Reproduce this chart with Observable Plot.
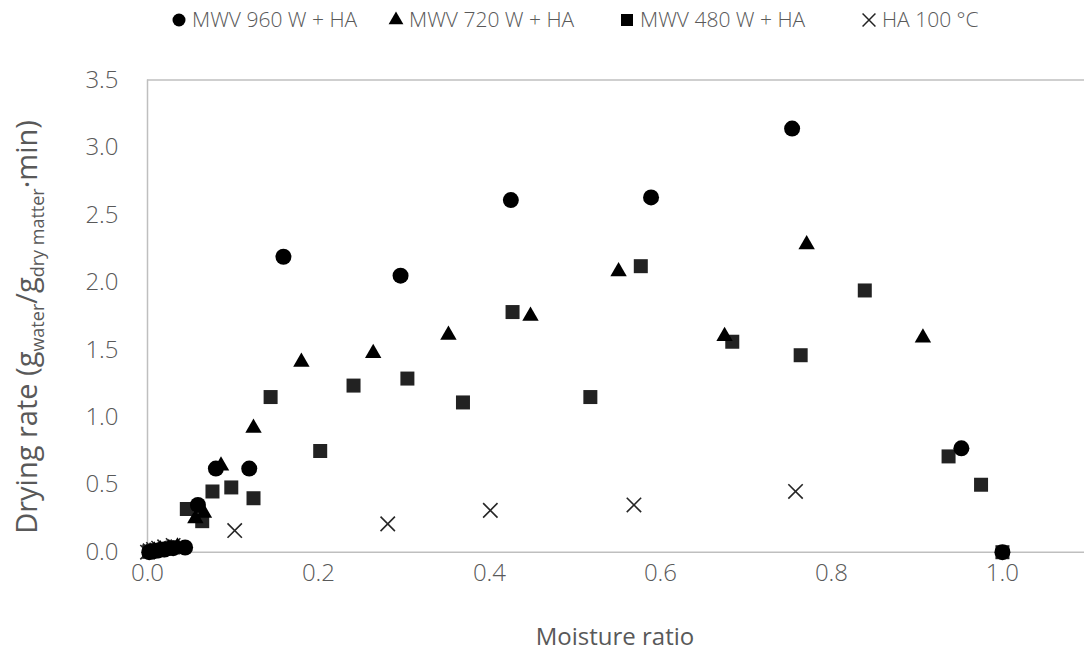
<!DOCTYPE html>
<html><head><meta charset="utf-8">
<script src="https://cdn.jsdelivr.net/npm/d3@7"></script>
<script src="https://cdn.jsdelivr.net/npm/@observablehq/plot@0.6"></script>
<style>
body{margin:0;background:#fff;font-family:"Open Sans",sans-serif;}
#wrap{position:relative;width:1084px;height:657px;overflow:hidden;background:#fff}
#legend{position:absolute;top:0;left:0;width:1084px;height:42px;z-index:2}
.item{position:absolute;top:4px;height:30px;display:flex;align-items:center;font-size:21px;font-weight:300;color:#595959;white-space:nowrap}
.item svg{margin-right:5px}
#chart{position:absolute;top:0;left:0}
</style></head><body><div id="wrap"><div id="legend"></div><div id="chart"></div></div>
<script>
// Series names
const seriesNames = ["MWV 960 W + HA", "MWV 720 W + HA", "MWV 480 W + HA", "HA 100 °C"];

// MWV 960 W + HA (circles)
const mr960 = [1.0, 0.952, 0.754, 0.589, 0.425, 0.296, 0.159, 0.119, 0.080, 0.059, 0.044, 0.030, 0.020, 0.012, 0.006, 0.002];
const dr960 = [0.0, 0.77, 3.14, 2.63, 2.61, 2.05, 2.19, 0.62, 0.62, 0.35, 0.035, 0.03, 0.02, 0.012, 0.006, 0.0];

// MWV 720 W + HA (triangles)
const mr720 = [0.907, 0.771, 0.675, 0.551, 0.448, 0.352, 0.264, 0.180, 0.124, 0.086, 0.066, 0.056, 0.035, 0.025, 0.015, 0.008, 0.003];
const dr720 = [1.59, 2.28, 1.60, 2.08, 1.75, 1.61, 1.475, 1.41, 0.92, 0.64, 0.29, 0.25, 0.04, 0.03, 0.02, 0.01, 0.005];

// MWV 480 W + HA (squares)
const mr480 = [1.0, 0.975, 0.937, 0.839, 0.764, 0.684, 0.577, 0.518, 0.427, 0.369, 0.304, 0.241, 0.202, 0.144, 0.124, 0.098, 0.076, 0.064, 0.046, 0.030, 0.020, 0.012, 0.006, 0.002];
const dr480 = [0.0, 0.50, 0.71, 1.94, 1.46, 1.56, 2.12, 1.15, 1.78, 1.11, 1.287, 1.235, 0.75, 1.15, 0.40, 0.48, 0.45, 0.23, 0.32, 0.035, 0.025, 0.015, 0.008, 0.003];

// HA 100 °C (crosses)
const mrHA = [0.758, 0.569, 0.401, 0.281, 0.102, 0.030, 0.020, 0.013, 0.007, 0.003, 0.0];
const drHA = [0.45, 0.35, 0.31, 0.21, 0.16, 0.05, 0.04, 0.03, 0.02, 0.01, 0.0];

const xTicks = [0, 0.2, 0.4, 0.6, 0.8, 1.0];
const yTicks = [0, 0.5, 1.0, 1.5, 2.0, 2.5, 3.0, 3.5];

const toRows = (xs, ys) => xs.map((v, i) => ({x: v, y: ys[i]}));
const d960 = toRows(mr960, dr960);
const d720 = toRows(mr720, dr720);
const d480 = toRows(mr480, dr480);
const dHA = toRows(mrHA, drHA);

const grid = "#bfbfbf";
const textCol = "#595959";

const chart = Plot.plot({
  width: 1084,
  height: 657,
  marginTop: 79.5,
  marginBottom: 105.3,
  marginLeft: 147,
  marginRight: 0,
  x: {domain: [0, 1.096]},
  y: {domain: [0, 3.5]},
  style: {fontFamily: "Open Sans, sans-serif", fontSize: "24px", color: textCol, background: "transparent", overflow: "visible"},
  marks: [
    Plot.ruleX([0], {stroke: grid, strokeWidth: 1.5}),
    Plot.ruleY([3.5], {stroke: grid, strokeWidth: 1.5}),
    Plot.ruleY([0], {stroke: grid, strokeWidth: 1.5}),
    Plot.axisX({ticks: xTicks, tickFormat: d3.format(".1f"), tickSize: 0, tickPadding: 12, label: null, fill: textCol, fontWeight: 300}),
    Plot.axisY({ticks: yTicks, tickFormat: d3.format(".1f"), tickSize: 0, tickPadding: 29, label: null, fill: textCol, fontWeight: 300}),
    Plot.dot(dHA, {x: "x", y: "y", symbol: "times", r: 6.6, stroke: "#262626", strokeWidth: 1.6}),
    Plot.dot(d480, {x: "x", y: "y", symbol: "square", r: 7.9, fill: "#222222"}),
    Plot.dot(d720, {x: "x", y: "y", symbol: "triangle", r: 6.1, fill: "#000000"}),
    Plot.dot(d960, {x: "x", y: "y", symbol: "circle", r: 8, fill: "#000000"})
  ]
});
document.getElementById("chart").appendChild(chart);

const svg = d3.select(chart);
// Y axis title with subscripts
const yt = svg.append("text")
  .attr("transform", "translate(37,327) rotate(-90)")
  .attr("text-anchor", "middle")
  .attr("fill", textCol)
  .attr("font-size", 29)
  .attr("font-family", "Open Sans, sans-serif");
yt.append("tspan").text("Drying rate (g");
yt.append("tspan").attr("font-size", 18).attr("dy", 7).text("water");
yt.append("tspan").attr("dy", -7).text("/g");
yt.append("tspan").attr("font-size", 18).attr("dy", 7).text("dry matter");
yt.append("tspan").attr("dy", -7).text("·min)");

// X axis title
svg.append("text")
  .attr("x", 615).attr("y", 645)
  .attr("text-anchor", "middle")
  .attr("fill", textCol)
  .attr("font-size", 24)
  .attr("font-family", "Open Sans, sans-serif")
  .text("Moisture ratio");

// Legend (HTML above the plot)
const legendSymbols = [
  {name: seriesNames[0], left: 171, sym: d3.symbolCircle, size: Math.PI * 6.5 * 6.5, fill: "#000", stroke: "none"},
  {name: seriesNames[1], left: 388, sym: d3.symbolTriangle, size: 95, fill: "#000", stroke: "none"},
  {name: seriesNames[2], left: 619, sym: d3.symbolSquare, size: 144, fill: "#000", stroke: "none"},
  {name: seriesNames[3], left: 861, sym: d3.symbolTimes, size: 110, fill: "none", stroke: "#222"}
];
const legend = d3.select("#legend");
legendSymbols.forEach(s => {
  const it = legend.append("div").attr("class", "item").style("left", s.left + "px");
  const sv = it.append("svg").attr("width", 16).attr("height", 18);
  sv.append("path").attr("transform", "translate(8,10)")
    .attr("d", d3.symbol(s.sym, s.size)())
    .attr("fill", s.fill).attr("stroke", s.stroke).attr("stroke-width", 1.5);
  it.append("span").text(s.name);
});
</script></body></html>
